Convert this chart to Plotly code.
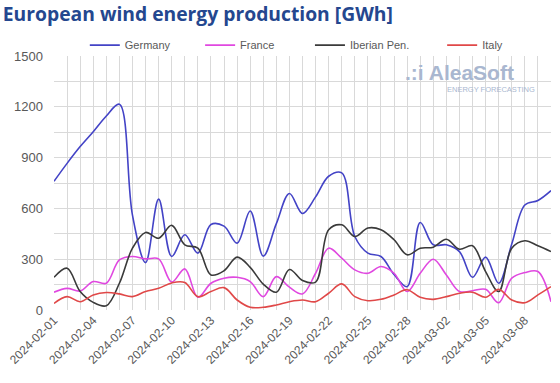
import pandas as pd
import plotly.graph_objects as go

dates = pd.date_range("2024-02-01", "2024-03-10", freq="D")

germany = [760, 866, 965, 1053, 1146, 1215, 560, 280, 655, 316,
           444, 336, 505, 495, 395, 585, 318, 510, 688, 570,
           668, 790, 810, 434, 336, 316, 210, 138, 517, 385,
           385, 345, 193, 312, 158, 390, 620, 647, 705]
france = [105, 128, 112, 168, 158, 296, 316, 302, 302, 165,
          243, 75, 158, 188, 193, 168, 79, 197, 135, 95,
          217, 365, 306, 237, 217, 257, 217, 109, 217, 300,
          207, 109, 114, 122, 43, 188, 221, 227, 49]
iberian = [193, 247, 109, 45, 25, 158, 365, 458, 424, 500,
           385, 365, 207, 232, 312, 252, 153, 105, 239, 174,
           165, 474, 503, 434, 484, 474, 415, 326, 365, 371,
           418, 359, 379, 227, 109, 365, 409, 379, 345]
italy = [39, 79, 49, 89, 103, 95, 79, 109, 128, 160,
         162, 79, 109, 132, 59, 16, 16, 30, 49, 59,
         49, 99, 154, 79, 55, 63, 89, 120, 75, 63,
         79, 99, 105, 75, 122, 59, 43, 89, 138]

series = [("Germany", germany, "#4343C6"),
          ("France", france, "#E048E0"),
          ("Iberian Pen.", iberian, "#3A3A3A"),
          ("Italy", italy, "#E04848")]
legend_ids = ["legend", "legend2", "legend3", "legend4"]
legend_x = [0.062, 0.294, 0.515, 0.781]

fig = go.Figure()
for (name, vals, col), lid in zip(series, legend_ids):
    fig.add_trace(go.Scatter(x=dates, y=vals, name=name, mode="lines", legend=lid,
                             line=dict(color=col, width=1.6, shape="spline", smoothing=1.0)))

grid = "#D9D9D9"
legend_common = dict(orientation="h", xanchor="left", y=1.043, yanchor="middle",
                     font=dict(size=11, color="#595959"), bgcolor="rgba(0,0,0,0)")
fig.update_layout(
    width=560, height=383,
    margin=dict(l=54, r=9, t=56, b=73, autoexpand=False),
    paper_bgcolor="white", plot_bgcolor="white",
    font=dict(family="Liberation Sans, Arial, sans-serif", color="#595959"),
    title=dict(text="<b>European wind energy production [GWh]</b>",
               x=0.005, xanchor="left", y=0.962, yanchor="middle",
               font=dict(family="Open Sans, sans-serif", size=19.3, color="#24478F")),
    showlegend=True,
)
for lid, lx in zip(legend_ids, legend_x):
    fig.update_layout({lid: dict(x=lx, **legend_common)})

fig.update_xaxes(
    type="date", range=[dates[0], dates[-1]],
    tickformat="%Y-%m-%d", dtick=3 * 86400000, tick0=dates[0],
    tickangle=-45, tickfont=dict(size=12, color="#595959"),
    showgrid=True, gridcolor=grid, gridwidth=1,
    minor=dict(dtick=86400000, tick0=dates[0], showgrid=True, gridcolor=grid, gridwidth=1),
    showline=False, zeroline=False, ticks="",
)
fig.update_yaxes(
    range=[0, 1500], dtick=300, tick0=0,
    tickfont=dict(size=13, color="#595959"), ticklabelstandoff=10,
    showgrid=True, gridcolor=grid, gridwidth=1,
    minor=dict(dtick=150, showgrid=True, gridcolor=grid, gridwidth=1),
    showline=False, zeroline=False, ticks="",
)

fig.add_annotation(xref="paper", yref="paper", x=0.93, y=0.935, xanchor="right", yanchor="middle",
                   text="<b>.:i AleaSoft</b>", showarrow=False,
                   font=dict(family="Liberation Sans, Arial, sans-serif", size=21, color="#A9B7D0"))
fig.add_annotation(xref="paper", yref="paper", x=0.972, y=0.87, xanchor="right", yanchor="middle",
                   text="ENERGY FORECASTING", showarrow=False,
                   font=dict(family="Liberation Sans, Arial, sans-serif", size=7.5, color="#A9B7D0"))

fig.write_html("out.html", config={"displayModeBar": False},
               post_script="document.body.style.margin='0';")
